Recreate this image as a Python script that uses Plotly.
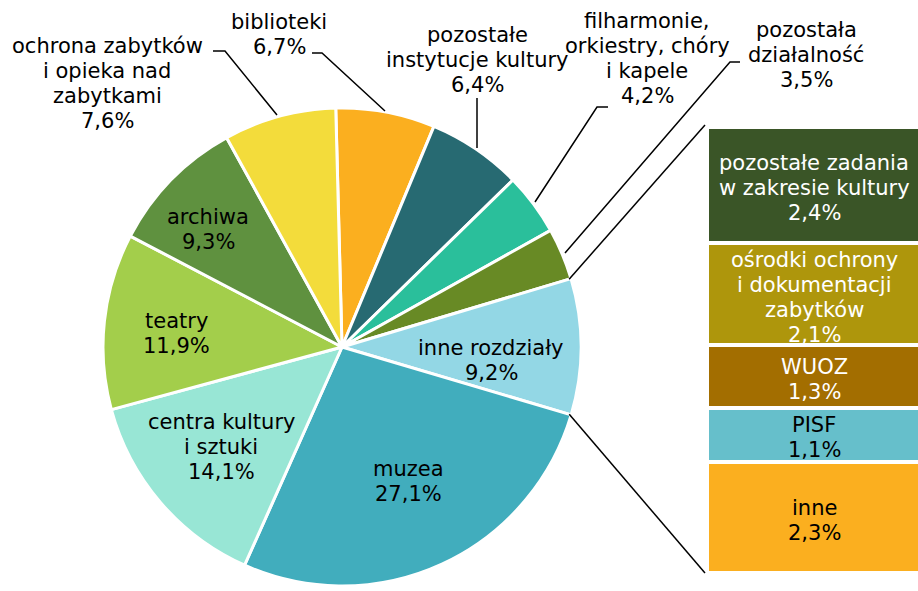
import plotly.graph_objects as go
import math

W, H = 918, 591

# ---- data ----
pie_labels = ["biblioteki", "pozostałe instytucje kultury", "filharmonie, orkiestry, chóry i kapele",
              "pozostała działalność", "inne rozdziały", "muzea", "centra kultury i sztuki",
              "teatry", "archiwa", "ochrona zabytków i opieka nad zabytkami"]
pie_values = [6.7, 6.4, 4.2, 3.5, 9.2, 27.1, 14.1, 11.9, 9.3, 7.6]
pie_colors = ["#FBAF1F", "#276A72", "#2ABF9B", "#688A25", "#93D7E5",
              "#41ADBD", "#98E6D5", "#A3CE4B", "#5F913F", "#F3DC3B"]

bar_labels = ["inne", "PISF", "WUOZ", "ośrodki ochrony|i dokumentacji|zabytków",
              "pozostałe zadania|w zakresie kultury"]
bar_values = [2.3, 1.1, 1.3, 2.1, 2.4]
bar_colors = ["#FBAF1F", "#66BFCB", "#A36E00", "#AE960C", "#3A5527"]
bar_text_colors = ["black", "black", "white", "white", "white"]

FONT = "DejaVu Sans"
FS = 21
LH = 25  # line height in px

def fmt(v):
    return f"{v:.1f}".replace(".", ",") + "%"

def px(x, y):
    return x / W, 1 - y / H

# ---- geometry ----
pie_x0, pie_x1 = 103, 581
pie_y0, pie_y1 = 108, 586
ROT = -1.5
bar_x0, bar_x1 = 707, 918
bar_top, bar_bot = 127, 573

fig = go.Figure()

fig.add_trace(go.Pie(
    labels=pie_labels, values=pie_values, sort=False, direction="clockwise",
    rotation=ROT, marker=dict(colors=pie_colors, line=dict(color="white", width=3)),
    textinfo="none", hoverinfo="label+value", showlegend=False,
    domain=dict(x=[pie_x0 / W, pie_x1 / W], y=[1 - pie_y1 / H, 1 - pie_y0 / H]),
))

for lab, val, col in zip(bar_labels, bar_values, bar_colors):
    fig.add_trace(go.Bar(
        x=[0], y=[val], name=lab.replace("|", " "),
        marker=dict(color=col, line=dict(color="white", width=4)),
        showlegend=False, hoverinfo="y+name",
    ))

fig.update_layout(
    width=W, height=H, margin=dict(l=0, r=0, t=0, b=0),
    paper_bgcolor="white", plot_bgcolor="white",
    barmode="stack", bargap=0,
    xaxis=dict(domain=[bar_x0 / W, bar_x1 / W], range=[-0.5, 0.485], visible=False),
    yaxis=dict(domain=[1 - bar_bot / H, 1 - bar_top / H], range=[0, sum(bar_values)], visible=False),
    font=dict(family=FONT, size=FS, color="black"),
)

def add_lines(lines, x, y, xref, yref, color, base_shift=0):
    n = len(lines)
    for i, t in enumerate(lines):
        fig.add_annotation(x=x, y=y, xref=xref, yref=yref, text=t, showarrow=False,
                           xanchor="center", yanchor="middle",
                           yshift=base_shift - (i - (n - 1) / 2) * LH,
                           font=dict(family=FONT, size=FS, color=color))

# ---- pie labels ----
label_pos = {
    "ochrona zabytków i opieka nad zabytkami": ("ochrona zabytków|i opieka nad|zabytkami", 107, 84),
    "biblioteki": ("biblioteki", 279, 35),
    "pozostałe instytucje kultury": ("pozostałe|instytucje kultury", 477, 60),
    "filharmonie, orkiestry, chóry i kapele": ("filharmonie,|orkiestry, chóry|i kapele", 647, 58),
    "pozostała działalność": ("pozostała|działalność", 806, 55),
    "inne rozdziały": ("inne rozdziały", 491, 360),
    "muzea": ("muzea", 408, 481),
    "centra kultury i sztuki": ("centra kultury|i sztuki", 221, 447),
    "teatry": ("teatry", 176, 333),
    "archiwa": ("archiwa", 208, 229),
}
for lab, val in zip(pie_labels, pie_values):
    txt, x, y = label_pos[lab]
    ax, ay = px(x, y)
    add_lines(txt.split("|") + [fmt(val)], ax, ay, "paper", "paper", "black")

# ---- bar labels (at segment centres, from data) ----
cum = 0
for lab, val, tcol in zip(bar_labels, bar_values, bar_text_colors):
    add_lines(lab.split("|") + [fmt(val)], 0, cum + val / 2, "x", "y", tcol, base_shift=-3)
    cum += val

# ---- leader lines ----
leaders = [
    [(213, 51), (225, 51), (277, 115)],
    [(312, 53), (322, 53), (385, 111)],
    [(477, 98), (477, 148)],
    [(608, 107), (597, 107), (535, 202)],
    [(740, 62), (730, 62), (565, 253)],
]
for pts in leaders:
    path = ""
    for i, (x, y) in enumerate(pts):
        X, Y = px(x, y)
        path += ("M" if i == 0 else " L") + f" {X} {Y}"
    fig.add_shape(type="path", path=path, xref="paper", yref="paper",
                  line=dict(color="black", width=1.5))

# ---- pie-of-bar connectors ----
cx, cy = (pie_x0 + pie_x1) / 2, (pie_y0 + pie_y1) / 2
r = (pie_x1 - pie_x0) / 2
tot = sum(pie_values)
k = pie_labels.index("inne rozdziały")
a0 = math.radians(ROT + 360 * sum(pie_values[:k]) / tot)
a1 = math.radians(ROT + 360 * sum(pie_values[:k + 1]) / tot)
for a, (bx, by) in [(a0, (bar_x0 - 2, bar_top - 2)), (a1, (bar_x0 - 2, bar_bot))]:
    sx, sy = cx + (r - 2) * math.sin(a), cy - (r - 2) * math.cos(a)
    X0, Y0 = px(sx, sy)
    X1, Y1 = px(bx, by)
    fig.add_shape(type="line", x0=X0, y0=Y0, x1=X1, y1=Y1, xref="paper", yref="paper",
                  line=dict(color="black", width=1.5))

fig.write_html("out.html", config={"displayModeBar": False},
               post_script="document.body.style.margin='0px';")
